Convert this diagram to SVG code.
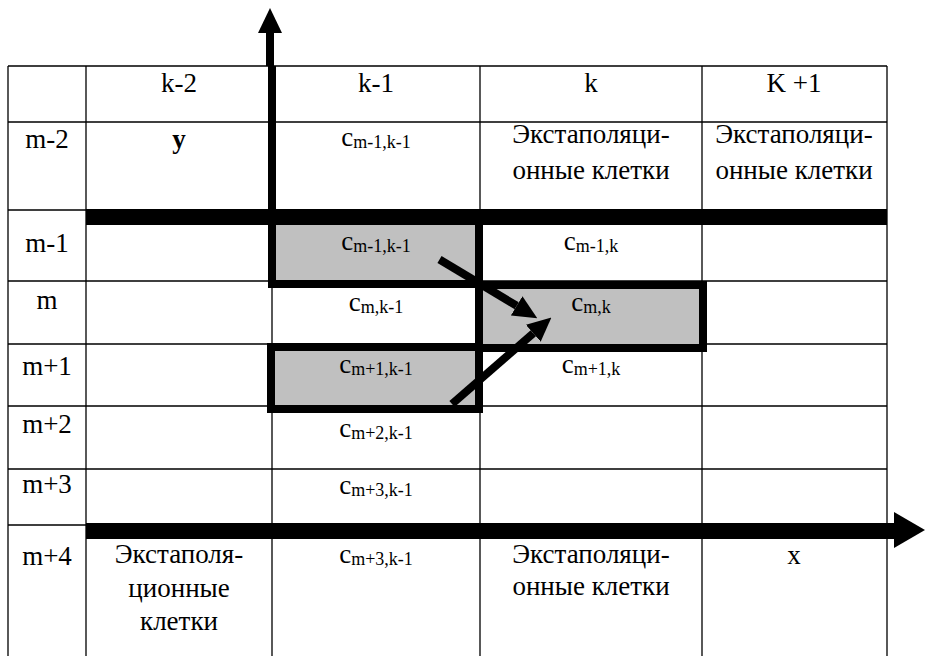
<svg xmlns="http://www.w3.org/2000/svg" width="925" height="656" viewBox="0 0 925 656">
<defs>
<marker id="ah" viewBox="0 0 3 2.8" refX="0" refY="1.4" markerWidth="3" markerHeight="2.8" orient="auto" markerUnits="strokeWidth"><path d="M0,0 L3,1.4 L0,2.8 z" fill="#000"/></marker>
</defs>
<style>
.g{stroke:#000;stroke-width:1.3;fill:none}
text{font-family:'Liberation Serif','Times New Roman',Times,serif;font-size:27px;fill:#000;text-anchor:middle}
.s{font-size:18px}
.b{font-weight:bold}
.hl{fill:#c0c0c0;stroke:#000;stroke-width:8}
.ar{stroke:#000;stroke-width:8;fill:none;marker-end:url(#ah)}
</style>
<rect width="925" height="656" fill="#fff"/>
<g id="grid" class="g">
<path d="M8,66H887M8,122H887M8,210H887M8,281H887M8,344H887M8,406H887M8,469H887M8,525H887"/>
<path d="M8,66V656M86,66V656M272,66V656M480,66V656M702,66V656M887,66V656"/>
</g>
<g id="highlight">
<rect id="box-m-1-k-1" class="hl" x="272" y="213" width="207" height="71"/>
<rect id="box-m-k" class="hl" x="479" y="285" width="224" height="63"/>
<rect id="box-m+1-k-1" class="hl" x="271" y="347" width="208" height="62"/>
</g>
<g id="labels" style="font-family:'Liberation Serif',serif">
<g id="header">
<text x="179" y="92">k-2</text>
<text x="376" y="92">k-1</text>
<text x="591" y="92">k</text>
<text x="794" y="92">K +1</text>
</g>
<g id="row-labels">
<text x="47" y="148">m-2</text>
<text x="47" y="252">m-1</text>
<text x="47" y="309">m</text>
<text x="47" y="375">m+1</text>
<text x="47" y="433">m+2</text>
<text x="47" y="493">m+3</text>
<text x="47" y="565">m+4</text>
</g>
<g id="cell-y"><text class="b" x="179" y="148">y</text></g>
<g id="cell-c-m-1-k-1-top"><text x="376" y="146">c<tspan class="s" dy="2">m-1,k-1</tspan></text></g>
<g id="cell-extra-k-top"><text x="591" y="143">Экстаполяци-</text><text x="591" y="179">онные клетки</text></g>
<g id="cell-extra-k1-top"><text x="794" y="143">Экстаполяци-</text><text x="794" y="179">онные клетки</text></g>
<g id="cell-c-m-1-k-1"><text x="376" y="250">c<tspan class="s" dy="2">m-1,k-1</tspan></text></g>
<g id="cell-c-m-1-k"><text x="591" y="250">c<tspan class="s" dy="2">m-1,k</tspan></text></g>
<g id="cell-c-m-k-1"><text x="376" y="311">c<tspan class="s" dy="2">m,k-1</tspan></text></g>
<g id="cell-c-m-k"><text x="591" y="311">c<tspan class="s" dy="2">m,k</tspan></text></g>
<g id="cell-c-m+1-k-1"><text x="376" y="373">c<tspan class="s" dy="2">m+1,k-1</tspan></text></g>
<g id="cell-c-m+1-k"><text x="591" y="373">c<tspan class="s" dy="2">m+1,k</tspan></text></g>
<g id="cell-c-m+2-k-1"><text x="376" y="437">c<tspan class="s" dy="2">m+2,k-1</tspan></text></g>
<g id="cell-c-m+3-k-1"><text x="376" y="494">c<tspan class="s" dy="2">m+3,k-1</tspan></text></g>
<g id="cell-c-m+4-k-1"><text x="376" y="563">c<tspan class="s" dy="2">m+3,k-1</tspan></text></g>
<g id="cell-extra-bottom-left"><text x="179" y="563">Экстаполя-</text><text x="179" y="597">ционные</text><text x="179" y="630">клетки</text></g>
<g id="cell-extra-k-bottom"><text x="591" y="563">Экстаполяци-</text><text x="591" y="595">онные клетки</text></g>
<g id="cell-x"><text x="794" y="564">x</text></g>
</g>
<g id="connectors">
<rect x="86" y="209" width="801" height="16" fill="#000"/>
<rect x="86" y="523" width="808" height="16" fill="#000"/>
<polygon points="894,512 925,530 894,548" fill="#000"/>
<path d="M270,32V66M272,66V218" stroke="#000" stroke-width="8" fill="none"/>
<polygon points="258,33 270,8 282,33" fill="#000"/>
<line class="ar" x1="439.5" y1="259.5" x2="516.7" y2="305.8"/>
<line class="ar" x1="452" y1="404" x2="533.3" y2="333.3"/>
</g>
</svg>
